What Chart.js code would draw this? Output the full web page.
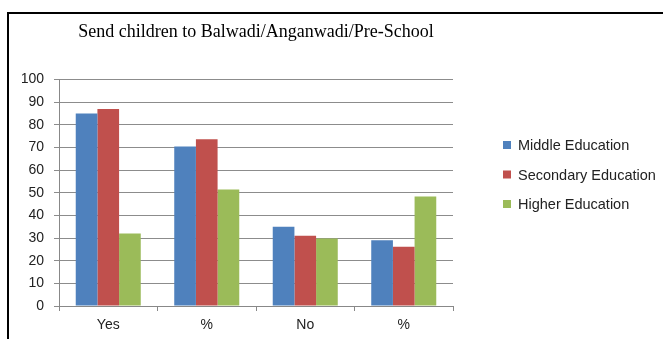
<!DOCTYPE html>
<html>
<head>
<meta charset="utf-8">
<script src="https://cdn.jsdelivr.net/npm/chart.js@4"></script>
<style>
  html, body { margin: 0; padding: 0; background: #fff; }
  #wrap { position: relative; width: 663px; height: 339px; }
  #frame { position: absolute; left: 7px; top: 12px; right: -4px; bottom: -4px;
           border-left: 2px solid #000; border-top: 2px solid #000; pointer-events: none; }
</style>
</head>
<body>
<div id="wrap">
  <canvas id="chart" width="663" height="339"></canvas>
  <div id="frame"></div>
</div>
<script>
// categories and series
const categories = ["Yes", "%", "No", "%"];
const middleEducation = [85, 70.5, 35, 29];
const secondaryEducation = [87, 73.7, 31, 26.2];
const higherEducation = [32, 51.5, 29.8, 48.4];
const chartTitle = "Send children to Balwadi/Anganwadi/Pre-School";

const sans = "'Liberation Sans', Arial, sans-serif";

// legend drawn beside the plot, like the office-style chart
const sideLegend = {
  id: "sideLegend",
  afterDraw(chart) {
    const c = chart.ctx;
    const x = chart.chartArea.right + 50;
    let y = 145;
    c.save();
    c.font = "14.5px " + sans;
    c.textBaseline = "middle";
    chart.data.datasets.forEach(ds => {
      c.fillStyle = ds.backgroundColor;
      c.fillRect(x, y - 4, 8, 8);
      c.fillStyle = "#222";
      c.fillText(ds.label, x + 15, y + 1);
      y += 29.5;
    });
    c.restore();
  }
};

const ctx = document.getElementById("chart").getContext("2d");
new Chart(ctx, {
  type: "bar",
  data: {
    labels: categories,
    datasets: [
      { label: "Middle Education", data: middleEducation, backgroundColor: "#4F81BD" },
      { label: "Secondary Education", data: secondaryEducation, backgroundColor: "#C0504D" },
      { label: "Higher Education", data: higherEducation, backgroundColor: "#9BBB59" }
    ]
  },
  options: {
    responsive: false,
    animation: false,
    datasets: { bar: { categoryPercentage: 0.66, barPercentage: 1.0 } },
    layout: { padding: { top: 12, left: 22, right: 210, bottom: 3 } },
    plugins: {
      title: {
        display: true,
        text: chartTitle,
        fullSize: false,
        color: "#000",
        font: { family: "'Liberation Serif', 'Times New Roman', serif", size: 18, weight: "normal" },
        padding: { top: 9, bottom: 37 }
      },
      legend: { display: false },
      tooltip: { enabled: false }
    },
    scales: {
      x: {
        grid: { display: true, drawOnChartArea: false, color: "#888", tickLength: 5, offset: true },
        border: { color: "#888" },
        ticks: { color: "#222", font: { family: sans, size: 14 }, padding: 6 },
        afterFit(s) { s.height = 30; }
      },
      y: {
        min: 0,
        max: 100,
        ticks: { stepSize: 10, color: "#222", font: { family: sans, size: 14 }, padding: 10 },
        grid: { color: "#8c8c8c", tickLength: 5 },
        border: { color: "#888" },
        afterFit(s) { s.width = 37; }
      }
    }
  },
  plugins: [sideLegend]
});
</script>
</body>
</html>
